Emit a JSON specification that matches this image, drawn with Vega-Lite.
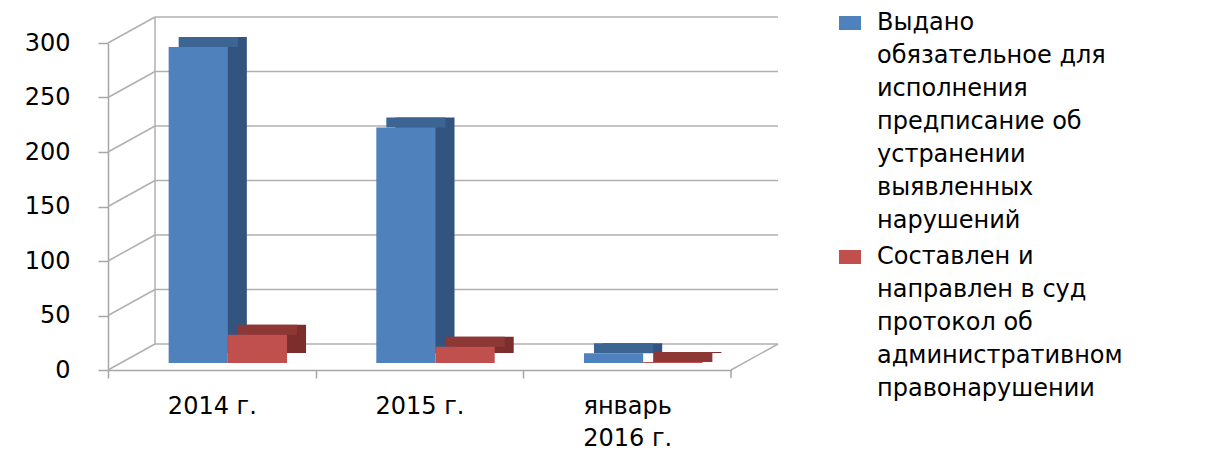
{
  "$schema": "https://vega.github.io/schema/vega-lite/v6.json",
  "width": 623,
  "height": 327,
  "autosize": {"type": "none"},
  "padding": {"left": 108, "top": 43, "right": 488, "bottom": 80},
  "background": "white",
  "config": {
    "view": {"stroke": null},
    "font": "DejaVu Sans",
    "style": {"guide-label": {"lineHeight": 33}},
    "axis": {"title": null, "grid": false, "domainColor": "#A6A6A6", "domainWidth": 1.5, "tickColor": "#A6A6A6", "tickWidth": 1.5, "labelFontSize": 24, "labelColor": "black"},
    "axisX": {"labelAngle": 0, "tickSize": 8, "labelPadding": 16, "labelLineHeight": 32, "labelLimit": 400, "labelExpr": "split(datum.label, '\\n')"},
    "axisY": {"tickSize": 10, "labelPadding": 28, "tickCount": 6}
  },
  "data": {
    "values": [
      {"period": "2014 г.", "series": "Выдано\nобязательное для\nисполнения\nпредписание об\nустранении\nвыявленных\nнарушений", "count": 290},
      {"period": "2014 г.", "series": "Составлен и\nнаправлен в суд\nпротокол об\nадминистративном\nправонарушении", "count": 26},
      {"period": "2015 г.", "series": "Выдано\nобязательное для\nисполнения\nпредписание об\nустранении\nвыявленных\nнарушений", "count": 216},
      {"period": "2015 г.", "series": "Составлен и\nнаправлен в суд\nпротокол об\nадминистративном\nправонарушении", "count": 15},
      {"period": "январь\n2016 г.", "series": "Выдано\nобязательное для\nисполнения\nпредписание об\nустранении\nвыявленных\nнарушений", "count": 9},
      {"period": "январь\n2016 г.", "series": "Составлен и\nнаправлен в суд\nпротокол об\nадминистративном\nправонарушении", "count": 1}
    ]
  },
  "layer": [
    {
      "data": {"values": [{"v": 0}, {"v": 50}, {"v": 100}, {"v": 150}, {"v": 200}, {"v": 250}, {"v": 300}]},
      "mark": {"type": "rule", "color": "#B0B0B0", "strokeWidth": 1.5, "xOffset": 47, "x2Offset": 47, "yOffset": -26},
      "encoding": {
        "x": {"value": 0},
        "x2": {"value": 623},
        "y": {"field": "v", "type": "quantitative", "scale": {"domain": [0, 300]}, "title": null}
      }
    },
    {
      "data": {"values": [{"v": 0}, {"v": 50}, {"v": 100}, {"v": 150}, {"v": 200}, {"v": 250}, {"v": 300}]},
      "mark": {"type": "rule", "color": "#B0B0B0", "strokeWidth": 1.5, "x2Offset": 47, "y2Offset": -26},
      "encoding": {
        "x": {"value": 0},
        "x2": {"value": 0},
        "y": {"field": "v", "type": "quantitative", "title": null},
        "y2": {"field": "v"}
      }
    },
    {
      "data": {"values": [{}]},
      "mark": {"type": "rule", "color": "#B0B0B0", "strokeWidth": 1.5, "xOffset": 47, "yOffset": -26, "y2Offset": -26},
      "encoding": {
        "x": {"value": 0},
        "y": {"datum": 0, "type": "quantitative", "title": null},
        "y2": {"datum": 300}
      }
    },
    {
      "data": {"values": [{}]},
      "mark": {"type": "rule", "color": "#B0B0B0", "strokeWidth": 1.5, "x2Offset": 47, "y2Offset": -26},
      "encoding": {
        "x": {"value": 623},
        "x2": {"value": 623},
        "y": {"datum": 0, "type": "quantitative", "title": null},
        "y2": {"datum": 0}
      }
    },
    {
      "data": {"values": [{}]},
      "mark": {"type": "rule", "color": "#A6A6A6", "strokeWidth": 1.5, "y2Offset": 8},
      "encoding": {
        "x": {"value": 623},
        "y": {"datum": 0, "type": "quantitative", "title": null},
        "y2": {"datum": 0}
      }
    },
    {
      "mark": {"type": "bar", "yOffset": -17, "y2Offset": -17},
      "encoding": {
        "x": {"field": "period", "type": "nominal", "sort": null, "title": null, "axis": {"tickOffset": -103.8, "labelOffset": 103.8}},
        "y": {"field": "count", "type": "quantitative", "title": null},
        "xOffset": {"field": "series", "type": "nominal", "sort": null, "scale": {"range": [35, 153.4], "paddingInner": 0, "paddingOuter": 0}},
        "color": {"condition": {"test": "indexof(datum.series, 'Выдано') == 0", "value": "#32547F"}, "value": "#7B2E2C"}
      }
    },
    {
      "mark": {"type": "bar", "yOffset": -17, "y2Offset": -7},
      "encoding": {
        "x": {"field": "period", "type": "nominal", "sort": null, "title": null, "axis": {"tickOffset": -103.8, "labelOffset": 103.8}},
        "y": {"field": "count", "type": "quantitative", "title": null},
        "y2": {"field": "count"},
        "xOffset": {"field": "series", "type": "nominal", "sort": null, "scale": {"range": [26, 144.4], "paddingInner": 0, "paddingOuter": 0}},
        "color": {"condition": {"test": "indexof(datum.series, 'Выдано') == 0", "value": "#3D6593"}, "value": "#8E3836"}
      }
    },
    {
      "mark": {"type": "bar", "yOffset": -7, "y2Offset": -7},
      "encoding": {
        "x": {
          "field": "period", "type": "nominal", "sort": null, "title": null,
          "scale": {"paddingInner": 0.43, "paddingOuter": 0.215},
          "axis": {"tickOffset": -103.8, "labelOffset": 103.8}
        },
        "y": {"field": "count", "type": "quantitative", "title": null},
        "xOffset": {"field": "series", "type": "nominal", "sort": null, "scale": {"range": [16, 134.4], "paddingInner": 0, "paddingOuter": 0}},
        "color": {
          "field": "series", "type": "nominal", "sort": null,
          "scale": {"range": ["#4F81BD", "#C0504D"]},
          "legend": {
            "title": null, "orient": "none", "legendX": 730, "legendY": -32,
            "symbolType": "M-1,-0.636H1V0.636H-1Z", "symbolSize": 484, "symbolStrokeWidth": 0,
            "labelFontSize": 24, "labelLimit": 400, "labelColor": "black",
            "labelOffset": 15, "rowPadding": 12,
            "labelExpr": "split(datum.label, '\\n')",
            "encoding": {"labels": {"lineHeight": {"value": 33}}}
          }
        }
      }
    }
  ],
  "resolve": {"scale": {"xOffset": "independent"}}
}
